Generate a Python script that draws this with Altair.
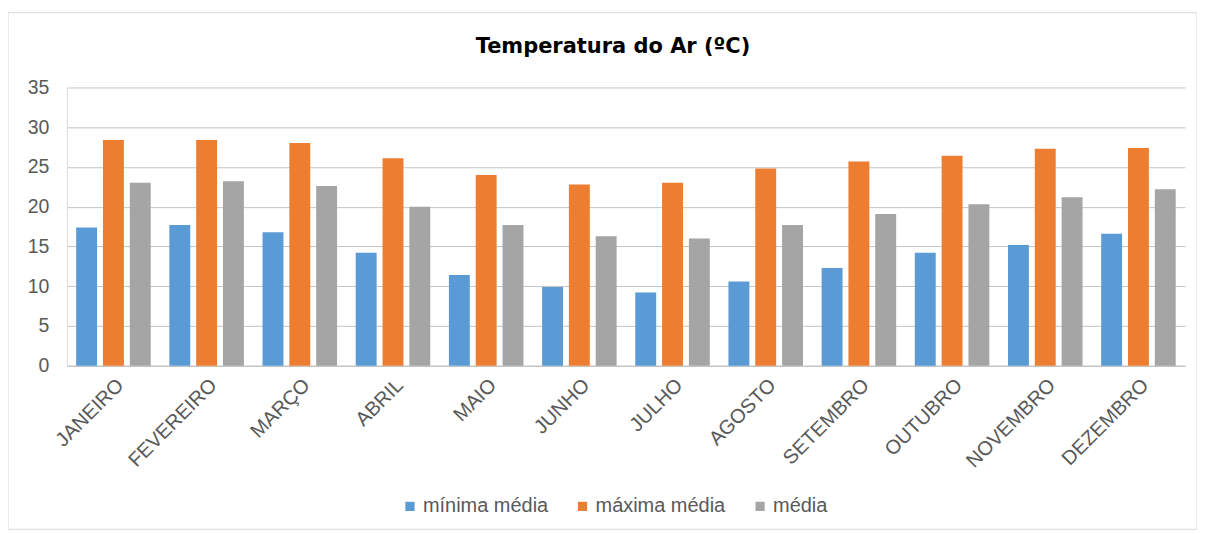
import altair as alt
import pandas as pd

months = ["JANEIRO", "FEVEREIRO", "MARÇO", "ABRIL", "MAIO", "JUNHO",
          "JULHO", "AGOSTO", "SETEMBRO", "OUTUBRO", "NOVEMBRO", "DEZEMBRO"]
series = ["mínima média", "máxima média", "média"]
minima = [17.4, 17.7, 16.8, 14.2, 11.4, 9.9, 9.2, 10.6, 12.3, 14.2, 15.2, 16.6]
maxima = [28.4, 28.4, 28.0, 26.1, 24.0, 22.8, 23.0, 24.8, 25.7, 26.4, 27.3, 27.4]
media = [23.0, 23.2, 22.6, 20.0, 17.7, 16.3, 16.0, 17.7, 19.1, 20.3, 21.2, 22.2]
colors = ["#5B9BD5", "#ED7D31", "#A5A5A5"]
title_text = ["Temperatura do Ar (ºC)"]

rows = []
for s, vals in zip(series, [minima, maxima, media]):
    for m, v in zip(months, vals):
        rows.append({"mes": m, "serie": s, "valor": v})
df = pd.DataFrame(rows)

FONT = "Liberation Sans"
W, H = 1121, 279

bars = alt.Chart(df).mark_bar().encode(
    x=alt.X("mes:N", sort=months,
            scale=alt.Scale(paddingInner=0.2, paddingOuter=0.1),
            axis=alt.Axis(title=None, labelAngle=-45, labelAlign="right",
                          labelBaseline="top", labelFontSize=20,
                          labelColor="#595959", labelFont=FONT,
                          labelPadding=9, ticks=False, domain=True,
                          domainColor="#BFBFBF", grid=False)),
    xOffset=alt.XOffset("serie:N", sort=series,
                        scale=alt.Scale(paddingInner=0.22)),
    y=alt.Y("valor:Q", scale=alt.Scale(domain=[0, 35]),
            axis=alt.Axis(title=None, values=[0, 5, 10, 15, 20, 25, 30, 35],
                          labelFontSize=19.5, labelColor="#595959",
                          labelFont=FONT, ticks=False, domain=True,
                          domainColor="#D9D9D9",
                          labelPadding=18, gridColor="#C4C4C4")),
    color=alt.Color("serie:N", sort=series,
                    scale=alt.Scale(domain=series, range=colors),
                    legend=alt.Legend(title=None, orient="none",
                                      direction="horizontal",
                                      legendX=334, legendY=410,
                                      symbolType="square", symbolSize=85,
                                      symbolStrokeWidth=0,
                                      labelFontSize=20, labelColor="#595959",
                                      labelFont=FONT, columnPadding=24,
                                      labelOffset=3)),
)

frame = alt.Chart(pd.DataFrame({"a": [0]})).mark_rect(
    fill=None, stroke="#D9D9D9", strokeWidth=1
).encode(
    x=alt.value(-59), x2=alt.value(W + 12),
    y=alt.value(-75), y2=alt.value(H + 164)
)

title = alt.Chart(pd.DataFrame({"t": title_text})).mark_text(
    font="DejaVu Sans", fontSize=21, fontWeight="bold", color="#000000",
    align="center", baseline="alphabetic"
).encode(
    text="t:N", x=alt.value(W / 2 - 13), y=alt.value(-35)
)

chart = alt.layer(frame, bars, title).properties(
    width=W, height=H,
    autosize=alt.AutoSizeParams(type="none"),
    padding={"left": 59, "top": 79, "right": 12, "bottom": 164},
).configure_view(stroke=None)

chart.save("out.html", embed_options={"renderer": "svg", "actions": False})
